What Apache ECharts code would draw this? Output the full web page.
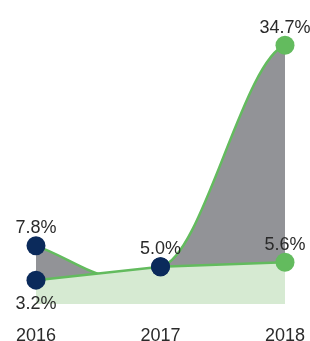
<!DOCTYPE html>
<html><head><meta charset="utf-8">
<script src="https://cdn.jsdelivr.net/npm/echarts@6/dist/echarts.min.js"></script>
<style>html,body{margin:0;padding:0;background:#fff}#c{width:310px;height:341px}</style>
</head><body><div id="c"></div>
<script>
// ---- data ----
const years = [2016, 2017, 2018];
const upperValues = [7.8, 5.0, 34.7];
const lowerValues = [3.2, 5.0, 5.6];
const xTickLabels = ['2016', '2017', '2018'];

// ---- style ----
const NAVY = '#0b2a5b', GREEN = '#63bb5e', GRAY = '#929397', LIGHT = '#d6ead2', TEXT = '#2a2a2a';
const FONT = '"Liberation Sans", Arial, sans-serif';
// curve shape: Hermite tangents of each upper segment, as multiples of that segment's slope (start, end)
const CURVE_EASE = [[2.0, -4.8], [0.1, 0.2]];

const upperPairs = years.map((y, i) => [y, upperValues[i]]);
const lowerPairs = years.map((y, i) => [y, lowerValues[i]]);

function upperPath(api) {
  const p0 = api.coord(upperPairs[0]);
  let d = 'M' + p0[0] + ' ' + p0[1];
  for (let i = 0; i < upperPairs.length - 1; i++) {
    const [xa, ya] = upperPairs[i], [xb, yb] = upperPairs[i + 1];
    const dx = xb - xa, slope = (yb - ya) / dx;
    const m0 = slope * CURVE_EASE[i][0], m1 = slope * CURVE_EASE[i][1];
    const c1 = api.coord([xa + dx / 3, ya + m0 * dx / 3]);
    const c2 = api.coord([xb - dx / 3, yb - m1 * dx / 3]);
    const pb = api.coord([xb, yb]);
    d += ' C' + c1[0] + ' ' + c1[1] + ' ' + c2[0] + ' ' + c2[1] + ' ' + pb[0] + ' ' + pb[1];
  }
  return d;
}

const chart = echarts.init(document.getElementById('c'), null, {renderer: 'canvas'});
chart.setOption({
  animation: false,
  grid: {left: 36, right: 25, top: 43, bottom: 37, containLabel: false, outerBoundsMode: 'none'},
  xAxis: {
    type: 'value', min: 2016, max: 2018, interval: 1,
    axisLine: {show: false}, axisTick: {show: false}, splitLine: {show: false},
    axisLabel: {margin: 23, fontSize: 18, color: TEXT, fontFamily: FONT,
      formatter: v => xTickLabels[years.indexOf(v)] || ''}
  },
  yAxis: {type: 'value', min: 0, max: 35, show: false, splitLine: {show: false}},
  series: [
    {
      type: 'custom', z: 2, clip: false, silent: true,
      data: upperPairs, encode: {x: 0, y: 1},
      renderItem: function (params, api) {
        if (params.dataIndex !== 0) return null;
        const curve = upperPath(api);
        const base = api.coord([years[0], 0])[1];
        const last = api.coord(upperPairs[upperPairs.length - 1]);
        const first = api.coord(upperPairs[0]);
        return {
          type: 'group',
          children: [
            {type: 'path', shape: {pathData: curve + ' L' + last[0] + ' ' + base + ' L' + first[0] + ' ' + base + ' Z'},
             style: {fill: GRAY, stroke: null}},
            {type: 'path', shape: {pathData: curve},
             style: {fill: 'none', stroke: GREEN, lineWidth: 2.5}}
          ]
        };
      }
    },
    {
      type: 'line', z: 3, data: lowerPairs, symbol: 'none', silent: true,
      lineStyle: {color: GREEN, width: 2.5},
      areaStyle: {color: LIGHT, opacity: 1}
    },
    {
      type: 'scatter', z: 5, symbolSize: 19,
      data: lowerPairs.map((p, i) => ({
        value: p,
        label: {show: lowerValues[i] !== upperValues[i], position: i === 0 ? 'bottom' : 'top', distance: i === 0 ? 5 : -1}
      })),
      itemStyle: {color: p => (p.dataIndex < 2 ? NAVY : GREEN), opacity: 1},
      label: {fontSize: 18, color: TEXT, fontFamily: FONT, formatter: p => p.value[1].toFixed(1) + '%'}
    },
    {
      type: 'scatter', z: 6, symbolSize: 19,
      data: upperPairs,
      itemStyle: {color: p => (p.dataIndex < 2 ? NAVY : GREEN), opacity: 1},
      label: {show: true, position: 'top', distance: -1, fontSize: 18, color: TEXT, fontFamily: FONT,
        formatter: p => p.value[1].toFixed(1) + '%'}
    }
  ]
});
</script></body></html>
